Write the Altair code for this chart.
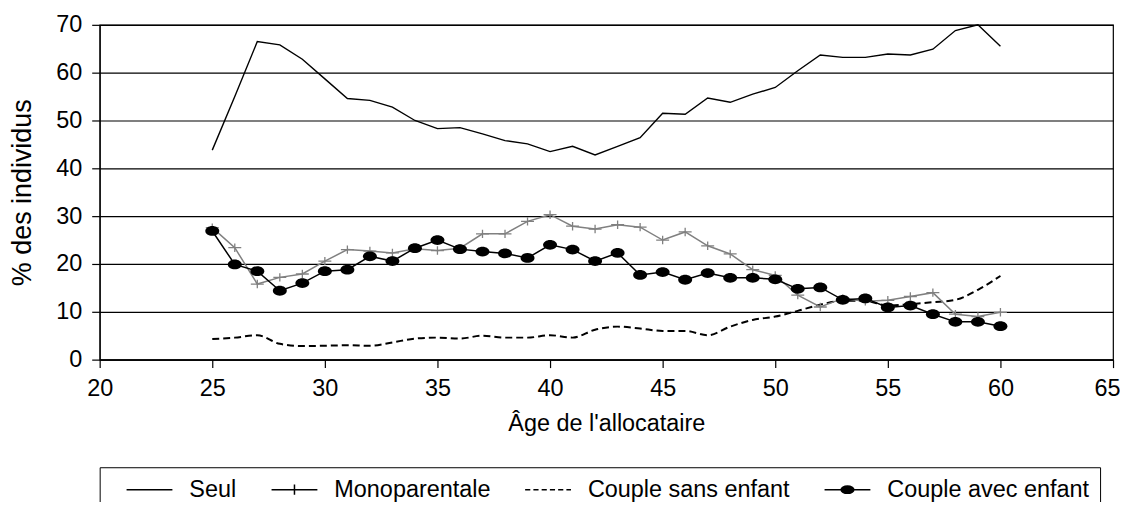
import altair as alt
import pandas as pd

ages = list(range(25, 61))
series = ["Seul", "Monoparentale", "Couple sans enfant", "Couple avec enfant"]

seul = [43.8, 55.0, 66.5, 65.8, 62.8, 58.7, 54.6, 54.2, 52.8, 50.0,
        48.3, 48.5, 47.2, 45.8, 45.1, 43.5, 44.6, 42.8, 44.6, 46.4,
        51.5, 51.3, 54.7, 53.8, 55.5, 56.9, 60.4, 63.7, 63.2, 63.2,
        63.9, 63.7, 64.9, 68.8, 70.0, 65.5]
mono = [27.6, 23.4, 15.8, 17.2, 17.9, 20.6, 23.0, 22.7, 22.3, 23.2,
        22.8, 23.3, 26.3, 26.3, 28.9, 30.3, 27.9, 27.3, 28.2, 27.7,
        25.0, 26.7, 23.8, 22.1, 18.8, 17.6, 13.5, 11.0, 12.8, 12.2,
        12.4, 13.2, 14.0, 9.5, 9.0, 9.9]
sans = [4.3, 4.6, 5.1, 3.3, 2.85, 2.9, 3.0, 2.9, 3.6, 4.4,
        4.6, 4.4, 5.0, 4.6, 4.6, 5.1, 4.6, 6.25, 6.9, 6.5,
        6.0, 6.0, 5.1, 6.9, 8.3, 9.0, 10.2, 11.5, 12.3, 12.3,
        11.3, 11.6, 12.0, 12.5, 14.6, 17.5]
avec = [26.9, 19.9, 18.5, 14.4, 16.0, 18.5, 18.8, 21.6, 20.6, 23.3,
        25.0, 23.1, 22.6, 22.2, 21.25, 24.0, 23.0, 20.6, 22.3, 17.7,
        18.3, 16.7, 18.1, 17.1, 17.1, 16.8, 14.8, 15.1, 12.5, 12.8,
        10.9, 11.3, 9.5, 7.9, 7.9, 7.0]

x_ticks = list(range(20, 66, 5))
y_ticks = list(range(0, 71, 10))

rows = []
for name, vals in zip(series, [seul, mono, sans, avec]):
    for a, v in zip(ages, vals):
        rows.append({"age": a, "val": v, "serie": name})
df = pd.DataFrame(rows)

FONT = "Liberation Sans"
NBSP = "\u00a0"

x_enc = alt.X("age:Q", scale=alt.Scale(domain=[20, 65], nice=False, zero=False),
              axis=alt.Axis(values=x_ticks, title="Âge de l'allocataire", grid=False,
                            format="d", labelFlush=False,
                            labelOffset={"condition": {"test": "datum.value == 65", "value": -6},
                                         "value": 0}))
y_enc = alt.Y("val:Q", scale=alt.Scale(domain=[0, 70], nice=False),
              axis=alt.Axis(values=y_ticks, title="% des individus", grid=True,
                            format="d", titleFontSize=27, titlePadding=19))

base = alt.Chart(df).encode(x=x_enc, y=y_enc)

def sel(name):
    return base.transform_filter(alt.datum.serie == name)

l_seul = sel("Seul").mark_line(color="black", strokeWidth=1.4)
l_sans = sel("Couple sans enfant").mark_line(color="black", strokeWidth=2,
                                             strokeDash=[7, 4], interpolate="monotone")
l_mono = sel("Monoparentale").mark_line(color="#808080", strokeWidth=1.5)
p_mono = sel("Monoparentale").mark_point(shape="M-1,0H1M0,-0.65V0.65", size=169,
                                         color="#808080", strokeWidth=1.3,
                                         filled=False, opacity=1)
l_avec = sel("Couple avec enfant").mark_line(color="black", strokeWidth=1.5)
p_avec = sel("Couple avec enfant").mark_point(
    shape="M-1,0A1,0.7 0 1,1 1,0A1,0.7 0 1,1 -1,0Z", size=196,
    filled=True, color="black", opacity=1)

# legend glyphs: a 46px line ending at the right of the symbol slot
ell = ("M-1.56,0A0.56,0.32 0 1,1 -0.44,0A0.56,0.32 0 1,1 -1.56,0Z"
       "M-1.51,-0.13H-0.49M-1.51,0.13H-0.49M-1.37,-0.24H-0.63M-1.37,0.24H-0.63")
leg_paths = [
    "M-3,0H1",
    "M-3,0H1M-1,-0.45V0.45",
    "M-3,0H-2.55M-2.28,0H-1.83M-1.56,0H-1.11M-0.84,0H-0.39M-0.12,0H0.33M0.6,0H1",
    "M-3,0H1" + ell,
]

legend_layer = base.transform_filter("false").mark_point(
    filled=False, color="black", strokeWidth=1.5, opacity=1).encode(
    shape=alt.Shape("serie:N", scale=alt.Scale(domain=series, range=leg_paths),
                    legend=alt.Legend(
                        orient="none", legendX=0, legendY=444,
                        direction="horizontal", columns=4,
                        title=NBSP, titleOrient="left", titlePadding=39,
                        titleFont=FONT, titleFontSize=23.5,
                        strokeColor="black", fillColor="white", padding=10,
                        symbolSize=529, symbolStrokeWidth=1.5,
                        symbolStrokeColor="black",
                        symbolOpacity=1,
                        labelFont=FONT, labelFontSize=23.5, labelColor="black",
                        labelOffset=16, columnPadding=31.5, labelLimit=400)))

chart = alt.layer(l_seul, l_sans, l_mono, p_mono, l_avec, p_avec, legend_layer).properties(
    width=1017, height=336,
    autosize=alt.AutoSizeParams(type="none"),
    padding={"left": 92, "top": 16, "right": 7, "bottom": 142},
).configure_view(stroke="black", strokeWidth=1.2).configure_axis(
    labelFont=FONT, titleFont=FONT, labelFontSize=23.5, titleFontSize=23.5,
    labelColor="black", titleColor="black", titleFontWeight="normal",
    domainColor="black", tickColor="black", tickSize=8, domainWidth=1.2,
    tickWidth=1.2, gridColor="black", gridWidth=1.2, gridOpacity=1,
).configure_axisX(labelPadding=9, titlePadding=12).configure_axisY(labelPadding=10)

chart.save("out.html", embed_options={"renderer": "svg", "actions": False})
